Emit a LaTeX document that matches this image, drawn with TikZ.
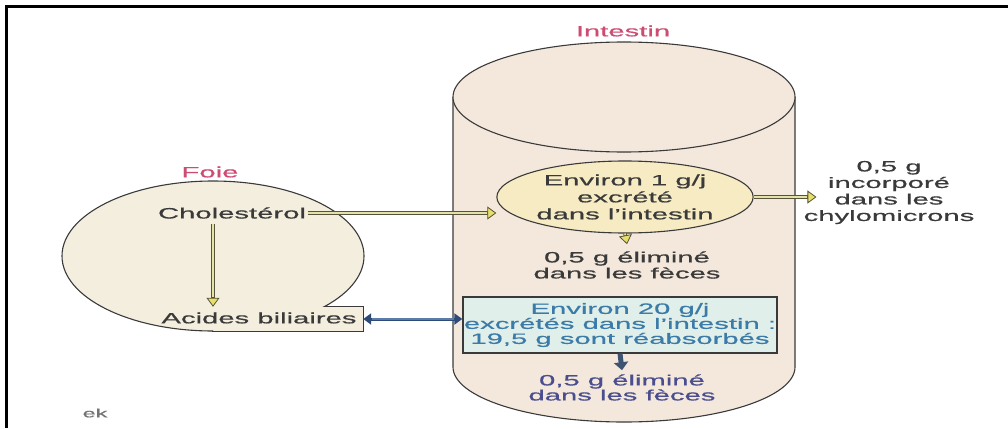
\documentclass[tikz,border=0pt]{standalone}
\usepackage{fontspec}
\setmainfont{Liberation Sans}[FakeStretch=1.95, FakeBold=0.6]
\usetikzlibrary{arrows.meta,shapes.geometric,calc}
\definecolor{cylfill}{HTML}{F4E8DC}
\definecolor{livfill}{HTML}{F4EEDF}
\definecolor{ellfill}{HTML}{F6EBC2}
\definecolor{boxfill}{HTML}{E0EFEA}
\definecolor{edge}{HTML}{3A3A3A}
\definecolor{txt}{HTML}{3A3A3A}
\definecolor{organ}{HTML}{CC4C74}
\definecolor{bluetxt}{HTML}{3C7BA8}
\definecolor{violtxt}{HTML}{4A4E8E}
\definecolor{yshaft}{HTML}{E4E2A8}
\definecolor{yhead}{HTML}{E8DE6A}
\definecolor{yedge}{HTML}{55543A}
\definecolor{darkblue}{HTML}{2E4B78}
\definecolor{midblue}{HTML}{5B7CA8}
\definecolor{slateblue}{HTML}{3E5473}
\tikzset{
  lbl/.style={text=txt, align=center, inner sep=2pt, font=\fontsize{15}{15}\selectfont},
  organlbl/.style={text=organ, inner sep=0pt, font=\fontsize{15}{15}\selectfont},
  outline/.style={draw=edge, line width=1.1pt},
  yarrow/.style={draw=yedge, line width=3.6pt,
    -{Triangle[length=9pt, width=13pt, line width=0.8pt, fill=yhead, color=yedge]},
    postaction={draw=yshaft, line width=1.8pt, shorten >=9.5pt, -}},
  barrow/.style={draw=darkblue, line width=3pt,
    {Triangle[length=8pt, width=11pt]}-{Triangle[length=8pt, width=11pt]},
    postaction={draw=midblue, line width=1.2pt, shorten >=8.5pt, shorten <=8.5pt, -}},
  blockarrow/.style={draw=slateblue, line width=5pt,
    -{Triangle[length=8pt, width=14pt]}},
}
\begin{document}
\begin{tikzpicture}[x=1pt,y=-1pt]
\useasboundingbox (0,0) rectangle (1008,428);
% frame
\draw[line width=2.5pt] (6.5,428) -- (6.5,6.5) -- (1008,6.5);
% cylinder
\fill[cylfill] (453,97) -- (453,367) arc[start angle=180,end angle=360,x radius=171pt,y radius=55pt] -- (795,97) -- cycle;
\draw[outline] (453,97) -- (453,367) arc[start angle=180,end angle=360,x radius=171pt,y radius=55pt] -- (795,97);
\draw[outline, fill=cylfill] (624,97) ellipse[x radius=171pt, y radius=55pt];
\node[organlbl] (intestin) at (623,31) {Intestin};
% liver
\coordinate (livc) at (213,256);
\node[lbl, minimum width=208pt, minimum height=24pt] (acidesbox) at (259,319) {};
\fill[livfill] (livc) ellipse[x radius=151pt, y radius=75pt];
\fill[livfill] (acidesbox.north -| livc) rectangle (acidesbox.south east);
\begin{scope}[even odd rule]
  \clip (0,0) rectangle (1008,428) (acidesbox.north -| livc) rectangle (acidesbox.south east);
  \draw[outline] (livc) ellipse[x radius=151pt, y radius=75pt];
\end{scope}
\begin{scope}[even odd rule]
  \clip (0,0) rectangle (1008,428) (livc) ellipse[x radius=151pt, y radius=75pt];
  \draw[outline] (acidesbox.north -| livc) rectangle (acidesbox.south east);
\end{scope}
\node[lbl] (acides) at (259,318) {Acides biliaires};
\node[organlbl] (foie) at (210,172) {Foie};
\node[lbl] (chol) at (232,213) {Cholestérol};
% intestine contents
\node[ellipse, draw=edge, line width=1.1pt, fill=ellfill, minimum width=226pt, minimum height=72pt,
      inner sep=0pt, lbl, font=\fontsize{15}{17}\selectfont] (env1) at (625,197)
      {Environ 1 g/j\\excrété\\dans l'intestin};
\node[lbl, font=\fontsize{15}{16}\selectfont] (elim1) at (627,265) {0,5 g éliminé\\dans les fèces};
\node[lbl, font=\fontsize{15}{16.5}\selectfont] (chylo) at (889,192.5) {0,5 g\\incorporé\\dans les\\chylomicrons};
\node[draw=edge, line width=1.2pt, fill=boxfill, minimum width=314pt, minimum height=56pt, inner sep=1pt,
      align=center, text=bluetxt, font=\fontsize{15}{15}\selectfont] (env20) at (620,325)
      {Environ 20 g/j\\excrétés dans l'intestin :\\19,5 g sont réabsorbés};
\node[lbl, text=violtxt] (elim2) at (622,387.5) {0,5 g éliminé\\dans les fèces};
\node[text=black!55, inner sep=0pt, font=\fontsize{12}{12}\selectfont] (logo) at (95,413) {ek};
% connectors
\draw[yarrow] (chol.east) -- (chol.east -| env1.west);
\draw[yarrow, shorten <=3pt] (chol.south -| livc) -- (acidesbox.north -| livc);
\draw[yarrow] (env1.east) -- ($(env1.east -| chylo.west)+(15,0)$);
\draw[yarrow] (env1.south) -- ($(elim1.north)+(0,-5)$);
\draw[barrow] (acidesbox.east) -- (acidesbox.east -| env20.west);
\draw[blockarrow] (env20.south) -- ($(elim2.north)+(0,-2)$);
\end{tikzpicture}
\end{document}
